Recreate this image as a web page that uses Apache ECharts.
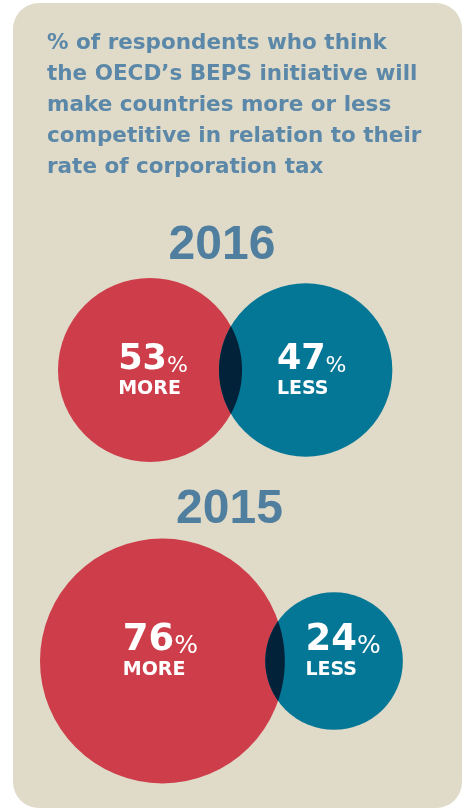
<!DOCTYPE html>
<html>
<head>
<meta charset="utf-8">
<script src="https://cdn.jsdelivr.net/npm/echarts@6/dist/echarts.min.js"></script>
<style>
  html, body { margin: 0; padding: 0; background: #ffffff; }
  #chart { width: 464px; height: 809px; }
</style>
</head>
<body>
<div id="chart"></div>
<script>
// Survey answers: share of respondents per year
const years = ['2016', '2015'];
const moreShare = [53, 76];
const lessShare = [47, 24];
const answerLabels = ['MORE', 'LESS'];
const headingLines = [
  '% of respondents who think',
  'the OECD\u2019s BEPS initiative will',
  'make countries more or less',
  'competitive in relation to their',
  'rate of corporation tax'
];

// Layout of each year's pair of circles (circle area is proportional to the share)
const rowLayout = [
  { left: 58, cy: 370, k: 12.64, overlap: 23, yearX: 222, yearY: 246, offsets: [[3, 4], [6, 4]] },
  { left: 40, cy: 661, k: 14.04, overlap: 19.5, yearX: 229.5, yearY: 510, offsets: [[-2, -6], [9, -6]] }
];

const COLORS = {
  panel: '#e0dac8',
  more: '#ce3e4a',
  less: '#057796',
  both: '#02223a',
  heading: '#5b88a8',
  year: '#4f7e9f'
};

function radius(i, v) { return rowLayout[i].k * Math.sqrt(v); }

// circle centres derived from the radii and the overlap of each pair
const centres = years.map((y, i) => {
  const L = rowLayout[i];
  const rM = radius(i, moreShare[i]);
  const rL = radius(i, lessShare[i]);
  const xM = L.left + rM;
  const xL = xM + rM + rL - L.overlap;
  return { xM, xL, cy: L.cy, rM, rL };
});

const labelFont = 'DejaVu Sans';
const richStyles = {
  n0: { fontFamily: labelFont, fontWeight: 'bold', fontSize: 35, color: '#fff', lineHeight: 30, align: 'left', verticalAlign: 'bottom' },
  p0: { fontFamily: labelFont, fontWeight: 'normal', fontSize: 22, color: '#fff', lineHeight: 30, align: 'left', verticalAlign: 'bottom' },
  w0: { fontFamily: labelFont, fontWeight: 'bold', fontSize: 19, color: '#fff', lineHeight: 24, align: 'left' },
  n1: { fontFamily: labelFont, fontWeight: 'bold', fontSize: 37, color: '#fff', lineHeight: 30, align: 'left', verticalAlign: 'bottom' },
  p1: { fontFamily: labelFont, fontWeight: 'normal', fontSize: 25, color: '#fff', lineHeight: 30, align: 'left', verticalAlign: 'bottom' },
  w1: { fontFamily: labelFont, fontWeight: 'bold', fontSize: 19, color: '#fff', lineHeight: 22, align: 'left' }
};

function circleSeries(name, shares, color, wordIdx) {
  return {
    type: 'scatter',
    name: name,
    z: wordIdx === 0 ? 2 : 3,
    symbol: 'circle',
    symbolSize: (val, p) => 2 * radius(p.dataIndex, val[2]),
    itemStyle: { color: color, opacity: 1 },
    emphasis: { disabled: true },
    silent: true,
    data: shares.map((v, i) => ({
      value: [wordIdx === 0 ? centres[i].xM : centres[i].xL, centres[i].cy, v],
      label: { offset: rowLayout[i].offsets[wordIdx] }
    })),
    label: {
      show: true,
      position: 'inside',
      align: 'center',
      verticalAlign: 'middle',
      formatter: p => {
        const i = p.dataIndex;
        return `{n${i}|${p.value[2]}}{p${i}|%}\n{w${i}|${answerLabels[wordIdx]}}`;
      },
      rich: richStyles
    }
  };
}

const chart = echarts.init(document.getElementById('chart'), null, { renderer: 'canvas' });

chart.setOption({
  animation: false,
  backgroundColor: '#ffffff',
  grid: { left: 0, right: 0, top: 0, bottom: 0 },
  xAxis: { type: 'value', min: 0, max: 464, show: false },
  yAxis: { type: 'value', min: 0, max: 809, inverse: true, show: false },
  graphic: [
    {
      type: 'rect', z: -10, silent: true,
      shape: { x: 13, y: 3, width: 449, height: 805, r: 26 },
      style: { fill: COLORS.panel }
    },
    {
      type: 'text', z: 5, silent: true, x: 47, y: 28,
      style: {
        text: headingLines.join('\n'),
        fontFamily: 'DejaVu Sans',
        fontWeight: 'bold',
        fontSize: 21.5,
        lineHeight: 31,
        fill: COLORS.heading,
        textAlign: 'left',
        textVerticalAlign: 'top'
      }
    },
    ...years.map((y, i) => ({
      type: 'text', z: 5, silent: true,
      x: rowLayout[i].yearX, y: rowLayout[i].yearY,
      style: {
        text: y,
        fontFamily: 'Liberation Sans',
        fontWeight: 'bold',
        fontSize: 48,
        fill: COLORS.year,
        textAlign: 'center',
        textVerticalAlign: 'middle'
      }
    }))
  ],
  series: [
    circleSeries('More competitive', moreShare, COLORS.more, 0),
    circleSeries('Less competitive', lessShare, COLORS.less, 1),
    {
      // lens where the two answers overlap
      type: 'custom',
      z: 4,
      silent: true,
      data: years.map((y, i) => [i]),
      renderItem: (params, api) => {
        const c = centres[params.dataIndex];
        const p1 = api.coord([c.xM, c.cy]);
        const p2 = api.coord([c.xL, c.cy]);
        const r1 = c.rM, r2 = c.rL;
        const d = p2[0] - p1[0];
        const a = (d * d + r1 * r1 - r2 * r2) / (2 * d);
        const h = Math.sqrt(Math.max(r1 * r1 - a * a, 0));
        const a1 = Math.atan2(h, a);
        const a2 = Math.atan2(h, d - a);
        const pts = [];
        const n = 48;
        for (let j = 0; j <= n; j++) {
          const t = -a1 + (2 * a1 * j) / n;
          pts.push([p1[0] + r1 * Math.cos(t), p1[1] + r1 * Math.sin(t)]);
        }
        for (let j = 0; j <= n; j++) {
          const t = Math.PI - a2 + (2 * a2 * j) / n;
          pts.push([p2[0] + r2 * Math.cos(t), p2[1] + r2 * Math.sin(t)]);
        }
        return { type: 'polygon', shape: { points: pts }, style: { fill: COLORS.both } };
      }
    }
  ]
});
</script>
</body>
</html>
